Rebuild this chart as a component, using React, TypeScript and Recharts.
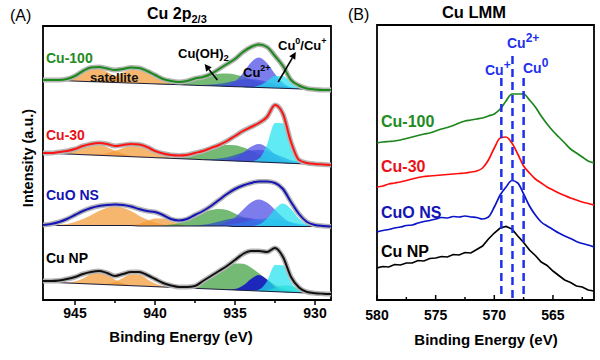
import React from 'react';
import { ComposedChart, Area, Line, XAxis, YAxis, ReferenceLine, ReferenceArea } from 'recharts';

const FONT = "'Liberation Sans', Arial, Helvetica, sans-serif";

// ================= Panel A : Cu 2p XPS =================
const energyA = [947, 946.5, 946, 945.5, 945, 944.5, 944, 943.5, 943, 942.5, 942, 941.5, 941, 940.5, 940, 939.5, 939, 938.5, 938, 937.5, 937, 936.5, 936, 935.5, 935, 934.5, 934, 933.5, 933, 932.5, 932, 931.5, 931, 930.5, 930, 929.5, 929];
const ticksA = [945, 942.5, 940, 937.5, 935, 932.5, 930];

// Cu-100
const cu100Base = [220, 219.7, 219.4, 219.2, 218.9, 218.6, 218.3, 218.1, 217.8, 217.5, 217.2, 216.9, 216.7, 216.4, 216.1, 215.8, 215.6, 215.3, 215, 214.7, 214.4, 214.2, 213.9, 213.6, 213.3, 213.1, 212.8, 212.5, 212.2, 211.9, 211.7, 211.4, 211.1, 210.8, 210.6, 210.3, 210];
const cu100Env = [220, 220, 220, 221, 224, 229, 232.5, 233, 231.5, 230, 231, 232.5, 232, 229, 225, 221, 219, 218, 219, 221.5, 223, 226, 231, 236, 241, 248, 253, 255.5, 253, 244, 234, 220, 214.5, 211.5, 210.5, 210, 210];
const cu100Sat1 = [0, 0.3, 1.2, 3.1, 6.4, 10.3, 13.1, 13.1, 10.3, 6.4, 3.1, 1.2, 0.3, 0, 0, 0, 0, 0, 0, 0, 0, 0, 0, 0, 0, 0, 0, 0, 0, 0, 0, 0, 0, 0, 0, 0, 0];
const cu100Sat2 = [0, 0, 0, 0, 0, 0, 0.3, 1.2, 3.1, 6.4, 10.3, 13.1, 13.1, 10.3, 6.4, 3.1, 1.2, 0.3, 0, 0, 0, 0, 0, 0, 0, 0, 0, 0, 0, 0, 0, 0, 0, 0, 0, 0, 0];
const cu100OH = [0, 0, 0, 0, 0, 0, 0, 0, 0, 0, 0, 0, 0, 0, 0, 0.4, 0.9, 1.9, 3.4, 5.5, 8, 10.5, 12.3, 13, 12.3, 10.5, 8, 5.5, 3.4, 1.9, 0.9, 0.4, 0, 0, 0, 0, 0];
const cu100Dark = [0, 0, 0, 0, 0, 0, 0, 0, 0, 0, 0, 0, 0, 0, 0, 0, 0, 0, 0, 0, 0.5, 1.2, 2.3, 4, 5.9, 7.4, 8, 7.4, 5.9, 4, 2.3, 1.2, 0.5, 0, 0, 0, 0];
const cu100Cu2 = [0, 0, 0, 0, 0, 0, 0, 0, 0, 0, 0, 0, 0, 0, 0, 0, 0, 0, 0, 0, 0, 0, 0.2, 1.4, 5.3, 14, 24.8, 30, 24.8, 14, 5.3, 1.4, 0.2, 0, 0, 0, 0];
const cu100Cu01 = [0, 0, 0, 0, 0, 0, 0, 0, 0, 0, 0, 0, 0, 0, 0, 0, 0, 0, 0, 0, 0, 0, 0, 0, 0, 0, 0.3, 1.9, 6.5, 12, 12, 6.5, 1.9, 0.3, 0, 0, 0];

// Cu-30
const cu30Base = [147, 146.7, 146.3, 146, 145.7, 145.3, 145, 144.7, 144.3, 144, 143.7, 143.3, 143, 142.7, 142.3, 142, 141.7, 141.3, 141, 140.7, 140.3, 140, 139.7, 139.3, 139, 138.7, 138.3, 138, 137.7, 137.3, 137, 136.7, 136.3, 136, 135.7, 135.3, 135];
const cu30Env = [147, 147, 148, 149, 151, 154, 156, 157, 156, 154, 155, 156, 155.5, 153, 149, 146.5, 145, 144.5, 145, 147, 149, 152, 155, 159, 164, 169, 173, 177, 183, 195, 186, 158, 140, 137, 136, 135.5, 135];
const cu30Sat1 = [0, 0.2, 1, 2.5, 5.2, 8.4, 10.7, 10.7, 8.4, 5.2, 2.5, 1, 0.2, 0, 0, 0, 0, 0, 0, 0, 0, 0, 0, 0, 0, 0, 0, 0, 0, 0, 0, 0, 0, 0, 0, 0, 0];
const cu30Sat2 = [0, 0, 0, 0, 0, 0, 0.2, 1, 2.5, 5.2, 8.4, 10.7, 10.7, 8.4, 5.2, 2.5, 1, 0.2, 0, 0, 0, 0, 0, 0, 0, 0, 0, 0, 0, 0, 0, 0, 0, 0, 0, 0, 0];
const cu30OH = [0, 0, 0, 0, 0, 0, 0, 0, 0, 0, 0, 0, 0, 0, 0, 0.2, 0.5, 1.3, 2.6, 4.8, 7.7, 11, 14, 15.8, 15.8, 14, 11, 7.7, 4.8, 2.6, 1.3, 0.5, 0.2, 0, 0, 0, 0];
const cu30Dark = [0, 0, 0, 0, 0, 0, 0, 0, 0, 0, 0, 0, 0, 0, 0, 0, 0, 0, 0, 0, 0, 0.75, 1.8, 3.5, 6, 8.8, 11.1, 12, 11.1, 8.8, 6, 3, 1.8, 0.75, 0, 0, 0];
const cu30Cu2 = [0, 0, 0, 0, 0, 0, 0, 0, 0, 0, 0, 0, 0, 0, 0, 0, 0, 0, 0, 0, 0, 0, 0.1, 0.85, 3.2, 8.4, 14.9, 18, 14.9, 8.4, 3.2, 0.85, 0.1, 0, 0, 0, 0];
const cu30Cu01 = [0, 0, 0, 0, 0, 0, 0, 0, 0, 0, 0, 0, 0, 0, 0, 0, 0, 0, 0, 0, 0, 0, 0, 0, 0, 0, 0.3, 3.4, 17.5, 39.7, 39.7, 15, 2.5, 0.3, 0, 0, 0];

// CuO NS
const cuoBase = [74.5, 74.5, 74.5, 74.5, 74.5, 74.5, 74.5, 74.5, 74.5, 74.5, 74.5, 74.5, 74, 74, 74, 74, 74, 74, 74, 74, 74, 74, 74, 74, 73.5, 73.5, 73.5, 73.5, 73.5, 73.5, 73.5, 73.5, 73.5, 73.5, 73.5, 73.5, 73.5];
const cuoEnv = [75, 76, 78, 81, 85, 89, 92, 94, 95, 95.5, 95, 93.5, 91, 89, 88, 85, 81, 79.5, 81, 85, 89, 94, 100, 106, 111, 114.5, 117, 118.5, 118.5, 117, 111, 98, 86, 78, 75, 74, 73.5];
const cuoSat1 = [0, 0.25, 0.7, 1.6, 3.5, 6.4, 10.3, 14.5, 17.8, 19, 17.8, 14.5, 10.3, 6.4, 3.5, 1.6, 0.7, 0.25, 0, 0, 0, 0, 0, 0, 0, 0, 0, 0, 0, 0, 0, 0, 0, 0, 0, 0, 0];
const cuoSat2 = [0, 0, 0, 0, 0, 0, 0, 0, 0, 0, 0.1, 0.6, 2.1, 4.9, 7.6, 7.6, 4.9, 2.1, 0.6, 0.1, 0, 0, 0, 0, 0, 0, 0, 0, 0, 0, 0, 0, 0, 0, 0, 0, 0];
const cuoOH = [0, 0, 0, 0, 0, 0, 0, 0, 0, 0, 0, 0, 0, 0, 0.2, 0.6, 1.5, 3.1, 5.7, 9.2, 13, 15.9, 17, 15.9, 13, 9.2, 5.7, 3.1, 1.5, 0.6, 0.2, 0, 0, 0, 0, 0, 0];
const cuoDark = [0, 0, 0, 0, 0, 0, 0, 0, 0, 0, 0, 0, 0, 0, 0, 0, 0, 0, 0, 0.6, 1.3, 2.6, 4.5, 6.6, 8.3, 9, 8.3, 6.6, 4.5, 2.6, 1.3, 0.6, 0, 0, 0, 0, 0];
const cuoCu2 = [0, 0, 0, 0, 0, 0, 0, 0, 0, 0, 0, 0, 0, 0, 0, 0, 0, 0, 0, 0, 0, 0.35, 1.3, 3.9, 9.1, 16.7, 23.9, 27, 23.9, 16.7, 9.1, 3.9, 1.3, 0.35, 0, 0, 0];
const cuoSteel = [0, 0, 0, 0, 0, 0, 0, 0, 0, 0, 0, 0, 0, 0, 0, 0, 0, 0, 0, 0, 0, 0.3, 0.7, 1.5, 2.7, 4.35, 6.1, 7.5, 8, 7.5, 6.1, 4.35, 2.7, 1.5, 0.7, 0.3, 0];
const cuoCu01 = [0, 0, 0, 0, 0, 0, 0, 0, 0, 0, 0, 0, 0, 0, 0, 0, 0, 0, 0, 0, 0, 0, 0, 0, 0, 0, 0.3, 2, 7.8, 17.5, 23, 17.5, 7.8, 2, 0.3, 0, 0];

// Cu NP
const npBase = [18, 17.7, 17.3, 17, 16.7, 16.3, 16, 15.7, 15.3, 15, 14.7, 14.3, 14, 13.7, 13.3, 13, 12.7, 12.3, 12, 11.7, 11.3, 11, 10.7, 10.3, 10, 9.7, 9.3, 9, 8.7, 8.3, 8, 7.7, 7.3, 7, 6.7, 6.3, 6];
const npEnv = [19, 19, 19.5, 21, 23, 26, 28, 29, 27, 24, 26, 28, 28, 25, 21, 17, 14.5, 13, 13, 14, 19, 24, 29, 34, 40, 46, 49, 49, 48, 52, 43, 23, 12.5, 8, 6.8, 6.3, 6];
const npSat1 = [0, 0, 0, 0.4, 1.8, 5.3, 10.1, 12.5, 10.1, 5.3, 1.8, 0.4, 0, 0, 0, 0, 0, 0, 0, 0, 0, 0, 0, 0, 0, 0, 0, 0, 0, 0, 0, 0, 0, 0, 0, 0, 0];
const npSat2 = [0, 0, 0, 0, 0, 0, 0, 0.15, 0.9, 3.2, 7.4, 11.4, 11.4, 7.4, 3.2, 0.9, 0.15, 0, 0, 0, 0, 0, 0, 0, 0, 0, 0, 0, 0, 0, 0, 0, 0, 0, 0, 0, 0];
const npOH = [0, 0, 0, 0, 0, 0, 0, 0, 0, 0, 0, 0, 0, 0, 0, 0, 0.2, 0.6, 1.5, 3.5, 6.9, 11.8, 17.7, 23.2, 26.5, 26.5, 23.2, 17.7, 11.8, 6.9, 3.5, 1.5, 0.6, 0.2, 0, 0, 0];
const npCu2 = [0, 0, 0, 0, 0, 0, 0, 0, 0, 0, 0, 0, 0, 0, 0, 0, 0, 0, 0, 0, 0, 0, 0, 0.1, 1, 4.7, 11.8, 16, 11.8, 4.7, 1, 0.1, 0, 0, 0, 0, 0];
const npCu01 = [0, 0, 0, 0, 0, 0, 0, 0, 0, 0, 0, 0, 0, 0, 0, 0, 0, 0, 0, 0, 0, 0, 0, 0, 0, 0, 0, 1.5, 10.1, 26.6, 26.6, 10.1, 1.5, 0, 0, 0, 0];
const npAqua = [0, 0, 0, 0, 0, 0, 0, 0, 0, 0, 0, 0, 0, 0, 0, 0, 0, 0, 0, 0, 0, 0, 0, 0, 0, 0, 0, 0.25, 1.3, 3.8, 6.5, 6.5, 3.8, 1.3, 0.25, 0, 0];

// ================= Panel B : Cu LMM =================
const energyB = [580, 579.5, 579, 578.5, 578, 577.5, 577, 576.5, 576, 575.5, 575, 574.5, 574, 573.5, 573, 572.5, 572, 571.5, 571, 570.5, 570, 569.5, 569, 568.5, 568, 567.5, 567, 566.5, 566, 565.5, 565, 564.5, 564, 563.5, 563, 562.5, 562, 561.5];
const ticksB = [580, 577.5, 575, 572.5, 570, 567.5, 565, 562.5];
const lmmCu100 = [157, 158, 158.5, 159, 160, 161.5, 163, 164.5, 166, 167, 169, 171, 172.5, 174.5, 177, 179, 180, 181, 182, 184, 186, 191, 199, 206, 206, 206, 200, 193, 184, 176, 169, 163, 157, 151, 147, 143, 139, 137];
const lmmCu30 = [113, 114, 116, 117, 118, 119.5, 121, 122.5, 123.5, 124, 124.5, 125, 125.5, 126, 126.5, 127, 128, 129, 132, 140, 152, 162, 163, 157, 146, 134, 127, 121, 117, 113, 110, 107, 104.5, 102, 100, 98, 96.5, 95];
const lmmCuO = [68, 69.5, 70.5, 72, 73, 74.5, 75, 77, 78.5, 79.5, 81, 82.5, 82, 83.5, 83, 84, 83, 82.5, 81, 83, 93, 105, 113, 119.5, 117, 106, 94, 85, 78, 74, 70.5, 67, 64, 61.5, 58.5, 56.5, 55, 53];
const lmmCuNP = [32, 33.5, 33, 35.5, 35, 37, 37, 39.5, 39, 41.5, 42, 43.5, 43, 45.5, 45, 47.5, 47, 50.5, 54, 61, 67, 72, 73.5, 71, 64, 57.5, 50, 44.5, 38, 34.5, 29, 24.5, 20, 17.5, 14, 13, 10, 9];
const refEnergies = [569.4, 568.45, 567.5]; // Cu+, Cu2+, Cu0
const refTops = [222, 244, 222];

// ================= styles =================
const PEAK: Record<string, { fill: string; op: number }> = {
  sat: { fill: '#F29A35', op: 0.72 },
  oh: { fill: '#3F9E3F', op: 0.72 },
  dark: { fill: '#2A4FC8', op: 0.7 },
  royal: { fill: '#1212C6', op: 0.88 },
  cu2: { fill: '#4A4AE6', op: 0.72 },
  steel: { fill: '#3277E6', op: 0.72 },
  aqua: { fill: '#36CFA6', op: 0.7 },
  cu01: { fill: '#22E2EE', op: 0.72 },
};

type PeakDef = [string, number[], string];
const spectraA: { key: string; base: number[]; env: number[]; color: string; peaks: PeakDef[] }[] = [
  { key: 'c100', base: cu100Base, env: cu100Env, color: '#1A8A1A', peaks: [['s1', cu100Sat1, 'sat'], ['s2', cu100Sat2, 'sat'], ['oh', cu100OH, 'oh'], ['dk', cu100Dark, 'dark'], ['c2', cu100Cu2, 'cu2'], ['c01', cu100Cu01, 'cu01']] },
  { key: 'c30', base: cu30Base, env: cu30Env, color: '#FF1414', peaks: [['s1', cu30Sat1, 'sat'], ['s2', cu30Sat2, 'sat'], ['oh', cu30OH, 'oh'], ['dk', cu30Dark, 'dark'], ['c2', cu30Cu2, 'cu2'], ['c01', cu30Cu01, 'cu01']] },
  { key: 'cuo', base: cuoBase, env: cuoEnv, color: '#1414B8', peaks: [['s1', cuoSat1, 'sat'], ['s2', cuoSat2, 'sat'], ['oh', cuoOH, 'oh'], ['dk', cuoDark, 'dark'], ['c2', cuoCu2, 'cu2'], ['st', cuoSteel, 'steel'], ['c01', cuoCu01, 'cu01']] },
  { key: 'np', base: npBase, env: npEnv, color: '#111111', peaks: [['s1', npSat1, 'sat'], ['s2', npSat2, 'sat'], ['oh', npOH, 'oh'], ['c2', npCu2, 'royal'], ['aq', npAqua, 'aqua'], ['c01', npCu01, 'cu01']] },
];

const dataA = energyA.map((e, i) => {
  const row: Record<string, any> = { e };
  spectraA.forEach((s) => {
    row[`${s.key}_base`] = s.base[i];
    row[`${s.key}_env`] = s.env[i];
    s.peaks.forEach(([name, vals]) => {
      row[`${s.key}_${name}`] = [s.base[i], s.base[i] + vals[i]];
    });
  });
  return row;
});

const dataB = energyB.map((e, i) => ({ e, cu100: lmmCu100[i], cu30: lmmCu30[i], cuo: lmmCuO[i], np: lmmCuNP[i] }));

const linesB = [
  { key: 'cu100', color: '#1C861C' },
  { key: 'cu30', color: '#FF0D0D' },
  { key: 'cuo', color: '#0A14C8' },
  { key: 'np', color: '#000000' },
];

const renderTick = (props: any, dir: number, labelDy: number) => {
  const { x, y, payload } = props;
  const v = payload.value as number;
  const major = Math.abs(v % 5) < 1e-6;
  const len = major ? 5 : 3;
  return (
    <g>
      <line x1={x} x2={x} y1={y} y2={y + dir * len} stroke="#000" strokeWidth={1.5} />
      {major && (
        <text x={x} y={y + labelDy} textAnchor="middle" fontSize={14} fontWeight="bold" fill="#000" fontFamily={FONT}>
          {v}
        </text>
      )}
    </g>
  );
};

const arrowShape = (props: any) => {
  const { x1, y1, x2, y2 } = props;
  if ([x1, y1, x2, y2].some((v) => typeof v !== 'number' || isNaN(v))) return <g />;
  const ang = Math.atan2(y2 - y1, x2 - x1);
  const L = 7;
  const W = 3.5;
  const bx = x2 - L * Math.cos(ang);
  const by = y2 - L * Math.sin(ang);
  const px = -Math.sin(ang) * W;
  const py = Math.cos(ang) * W;
  return (
    <g>
      <line x1={x1} y1={y1} x2={bx} y2={by} stroke="#000" strokeWidth={1.6} />
      <polygon points={`${x2},${y2} ${bx + px},${by + py} ${bx - px},${by - py}`} fill="#000" />
    </g>
  );
};

export default function App() {
  const areaEls = spectraA.flatMap((s) =>
    s.peaks.map(([name, , kind]) => (
      <Area
        key={`${s.key}_${name}`}
        dataKey={`${s.key}_${name}`}
        type="monotone"
        stroke="none"
        fill={PEAK[kind].fill}
        fillOpacity={PEAK[kind].op}
        dot={false}
        activeDot={false}
        isAnimationActive={false}
      />
    ))
  );
  const baseEls = spectraA.map((s) => (
    <Line key={`${s.key}_b`} dataKey={`${s.key}_base`} type="linear" stroke="#1c1c3c" strokeWidth={1} dot={false} activeDot={false} isAnimationActive={false} />
  ));
  const rawEls = spectraA.map((s) => (
    <Line key={`${s.key}_raw`} dataKey={`${s.key}_env`} type="monotone" stroke="#b4b4b4" strokeWidth={5} dot={false} activeDot={false} isAnimationActive={false} />
  ));
  const envEls = spectraA.map((s) => (
    <Line key={`${s.key}_fit`} dataKey={`${s.key}_env`} type="monotone" stroke={s.color} strokeWidth={2} dot={false} activeDot={false} isAnimationActive={false} />
  ));

  const sup = (t: string, size = 9) => (
    <tspan fontSize={size} dy={-6}>
      {t}
    </tspan>
  );

  return (
    <div style={{ position: 'absolute', left: 0, top: 0, width: 600, height: 360, background: '#fff', fontFamily: FONT }}>
      <div style={{ position: 'absolute', left: 0, top: 0 }}>
        <ComposedChart width={340} height={360} data={dataA} margin={{ top: 26, right: 9, bottom: 30, left: 43 }}>
          <XAxis
            dataKey="e"
            type="number"
            domain={[929, 947]}
            reversed
            allowDataOverflow
            ticks={ticksA}
            interval={0}
            tickLine={false}
            tickSize={0}
            tickMargin={0}
            tick={(p: any) => renderTick(p, 1, 18)}
            axisLine={{ stroke: '#000', strokeWidth: 2 }}
            height={30}
          />
          <YAxis type="number" domain={[0, 274]} hide allowDataOverflow />
          {areaEls}
          {baseEls}
          {rawEls}
          {envEls}
          <ReferenceLine segment={[{ x: 936.1, y: 220 }, { x: 936.9, y: 236 }]} stroke="#000" shape={arrowShape} />
          <ReferenceLine segment={[{ x: 932.3, y: 218 }, { x: 931.2, y: 248 }]} stroke="#000" shape={arrowShape} />
          <ReferenceArea x1={929} x2={947} y1={0} y2={274} fill="none" fillOpacity={0} stroke="#000" strokeWidth={1.8} />
        </ComposedChart>
      </div>

      <div style={{ position: 'absolute', left: 300, top: 0 }}>
        <ComposedChart width={300} height={360} data={dataB} margin={{ top: 25, right: 6, bottom: 30, left: 77 }}>
          <XAxis
            dataKey="e"
            type="number"
            domain={[561.5, 580]}
            reversed
            allowDataOverflow
            ticks={ticksB}
            interval={0}
            tickLine={false}
            tickSize={0}
            tickMargin={0}
            tick={(p: any) => renderTick(p, -1, 20)}
            axisLine={{ stroke: '#000', strokeWidth: 2 }}
            height={30}
          />
          <YAxis type="number" domain={[0, 275]} hide allowDataOverflow />
          {linesB.map((l) => (
            <Line
              key={l.key}
              dataKey={l.key}
              type={l.key === 'np' ? 'linear' : 'monotone'}
              stroke={l.color}
              strokeWidth={1.7}
              dot={false}
              activeDot={false}
              isAnimationActive={false}
            />
          ))}
          {refEnergies.map((e, i) => (
            <ReferenceLine
              key={`ref${i}`}
              segment={[{ x: e, y: refTops[i] }, { x: e, y: 0 }]}
              stroke="#1E30EE"
              strokeWidth={2.5}
              strokeDasharray="8 5"
            />
          ))}
          <ReferenceArea x1={561.5} x2={580} y1={0} y2={275} fill="none" fillOpacity={0} stroke="#000" strokeWidth={1.8} />
        </ComposedChart>
      </div>

      <svg width={600} height={360} style={{ position: 'absolute', left: 0, top: 0, pointerEvents: 'none' }} fontFamily={FONT}>
        {/* Panel A texts */}
        <text x={10} y={21} fontSize={16} fill="#000">(A)</text>
        <text x={147} y={19} fontSize={16} fontWeight="bold" fill="#000">
          Cu 2p<tspan fontSize={11} dy={4}>2/3</tspan>
        </text>
        <text transform="translate(33,158) rotate(-90)" textAnchor="middle" fontSize={14.5} fontWeight="bold" fill="#000">
          Intensity (a.u.)
        </text>
        <text x={181} y={342} textAnchor="middle" fontSize={15} fontWeight="bold" fill="#000">Binding Energy (eV)</text>
        <text x={46} y={63} fontSize={14} fontWeight="bold" fill="#228B22">Cu-100</text>
        <text x={46} y={140} fontSize={14} fontWeight="bold" fill="#E8121A">Cu-30</text>
        <text x={46} y={200} fontSize={14} fontWeight="bold" fill="#1414B4">CuO NS</text>
        <text x={46} y={263} fontSize={14} fontWeight="bold" fill="#000">Cu NP</text>
        <text x={90} y={82} fontSize={13} fontWeight="bold" fill="#111">satellite</text>
        <text x={178} y={58} fontSize={13} fontWeight="bold" fill="#000">
          Cu(OH)<tspan fontSize={9.5} dy={3}>2</tspan>
        </text>
        <text x={243} y={77} fontSize={13} fontWeight="bold" fill="#000">
          Cu{sup('2+')}
        </text>
        <text x={278} y={50} fontSize={13} fontWeight="bold" fill="#000">
          Cu{sup('0')}
          <tspan fontSize={13} dy={6}>/Cu</tspan>
          {sup('+')}
        </text>

        {/* Panel B texts */}
        <text x={348} y={20} fontSize={16} fill="#000">(B)</text>
        <text x={474} y={18} textAnchor="middle" fontSize={16.5} fontWeight="bold" fill="#000">Cu LMM</text>
        <text x={486} y={345} textAnchor="middle" fontSize={15} fontWeight="bold" fill="#000">Binding Energy (eV)</text>
        <text x={381} y={127} fontSize={16} fontWeight="bold" fill="#228B22">Cu-100</text>
        <text x={381} y={172} fontSize={16} fontWeight="bold" fill="#E8121A">Cu-30</text>
        <text x={381} y={218} fontSize={16} fontWeight="bold" fill="#1414B4">CuO NS</text>
        <text x={381} y={257} fontSize={16} fontWeight="bold" fill="#000">Cu NP</text>
        <text x={485} y={75} fontSize={14} fontWeight="bold" fill="#1E30EE">
          Cu{sup('+', 12)}
        </text>
        <text x={507} y={48} fontSize={14} fontWeight="bold" fill="#1E30EE">
          Cu{sup('2+', 12)}
        </text>
        <text x={523} y={73} fontSize={14} fontWeight="bold" fill="#1E30EE">
          Cu{sup('0', 12)}
        </text>
      </svg>
    </div>
  );
}
